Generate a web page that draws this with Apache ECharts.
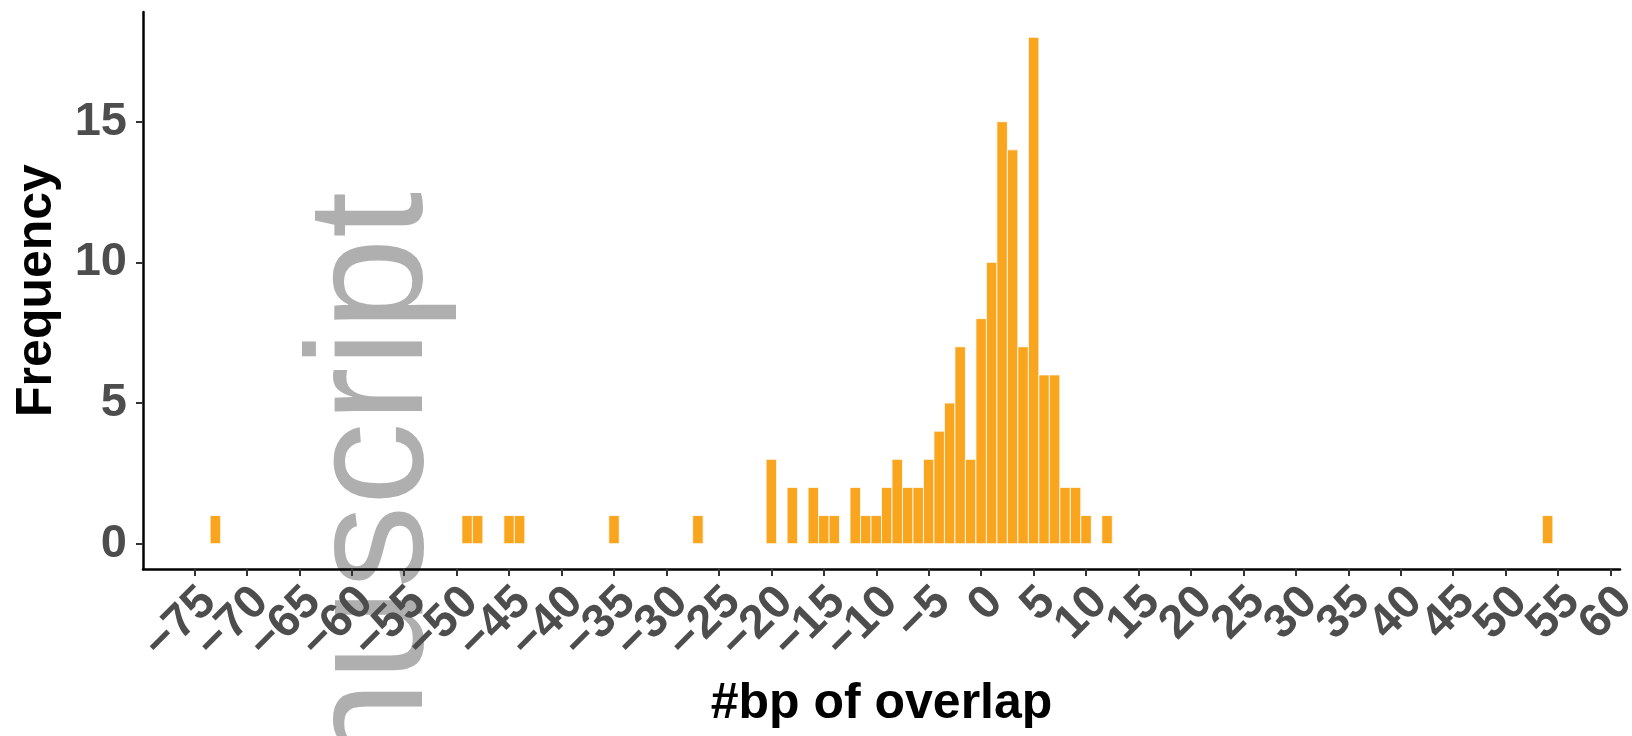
<!DOCTYPE html>
<html>
<head>
<meta charset="utf-8">
<script src="https://cdn.jsdelivr.net/npm/echarts@6/dist/echarts.min.js"></script>
<style>
html,body{margin:0;padding:0;background:#fff;}
#chart{width:1632px;height:736px;}
</style>
</head>
<body>
<div id="chart"></div>
<script>
// Histogram of #bp of overlap (bin width 1, bins centred on integers)
const binCenters = [-73,-49,-48,-45,-44,-35,-27,-20,-18,-16,-15,-14,-12,-11,-10,-9,-8,-7,-6,-5,-4,-3,-2,-1,0,1,2,3,4,5,6,7,8,9,10,12,54];
const counts     = [1,1,1,1,1,1,1,3,2,2,1,1,2,1,1,2,3,2,2,3,4,5,7,3,8,10,15,14,7,18,6,6,2,2,1,1,1];
const binWidth = 1;
const xTicks = [-75,-70,-65,-60,-55,-50,-45,-40,-35,-30,-25,-20,-15,-10,-5,0,5,10,15,20,25,30,35,40,45,50,55,60];
const yTicks = [0,5,10,15];
const xTitle = '#bp of overlap';
const yTitle = 'Frequency';
const watermark = 'Manuscript';
const xMin = -79.9, xMax = 60.9;
const yMin = -0.9, yMax = 18.9;

const FONT = '"Liberation Sans", Arial, Helvetica, sans-serif';
const chart = echarts.init(document.getElementById('chart'), null, {renderer: 'canvas'});
const fmt = v => xTicks.indexOf(v) >= 0 ? String(v).replace('-', '\u2212') : '';
// empty placeholder labels at the extent ends keep the real first/last labels visible
const xLabelValues = [xMin].concat(xTicks, [xMax]);

chart.setOption({
  animation: false,
  backgroundColor: '#ffffff',
  grid: {left: 143, right: 12, top: 12, bottom: 167, containLabel: false, outerBoundsMode: 'none'},
  xAxis: {
    type: 'value', min: xMin, max: xMax,
    splitLine: {show: false},
    axisLine: {show: true, onZero: false, lineStyle: {color: '#000', width: 2.5}},
    axisTick: {show: true, customValues: xTicks, length: 7, lineStyle: {color: '#333', width: 2}},
    axisLabel: {customValues: xLabelValues, formatter: fmt, rotate: 45, margin: 40, padding: [0, -20, 0, 0],
      color: '#4D4D4D', fontSize: 47, fontWeight: 'bold', fontFamily: FONT,
      hideOverlap: false},
    name: xTitle, nameLocation: 'middle', nameGap: 110,
    nameTextStyle: {color: '#000', fontSize: 50, fontWeight: 'bold', fontFamily: FONT}
  },
  yAxis: {
    type: 'value', min: yMin, max: yMax,
    splitLine: {show: false},
    axisLine: {show: true, onZero: false, lineStyle: {color: '#000', width: 2.5}},
    axisTick: {show: true, customValues: yTicks, length: 7, lineStyle: {color: '#333', width: 2}},
    axisLabel: {customValues: yTicks, margin: 16, color: '#4D4D4D', fontSize: 47, fontWeight: 'bold', fontFamily: FONT},
    name: yTitle, nameLocation: 'middle', nameGap: 81, nameRotate: 90,
    nameTextStyle: {color: '#000', fontSize: 50, fontWeight: 'bold', fontFamily: FONT}
  },
  series: [{
    type: 'custom',
    data: binCenters.map((c, i) => [c, counts[i]]),
    encode: {x: 0, y: 1},
    renderItem: function (params, api) {
      const c = api.value(0), n = api.value(1);
      const p0 = api.coord([c - binWidth / 2, n]);
      const p1 = api.coord([c + binWidth / 2, 0]);
      return {
        type: 'rect',
        shape: {x: p0[0], y: p0[1], width: p1[0] - p0[0], height: p1[1] - p0[1]},
        style: {fill: '#F9A51E', stroke: '#ffffff', lineWidth: 0.8}
      };
    }
  }],
  graphic: [{
    type: 'text', x: 376, y: 192, rotation: Math.PI / 2, z: -1, silent: true,
    style: {text: watermark, fill: '#AFAFAF', font: '166px ' + FONT, align: 'right', verticalAlign: 'middle'}
  }]
});
</script>
</body>
</html>
